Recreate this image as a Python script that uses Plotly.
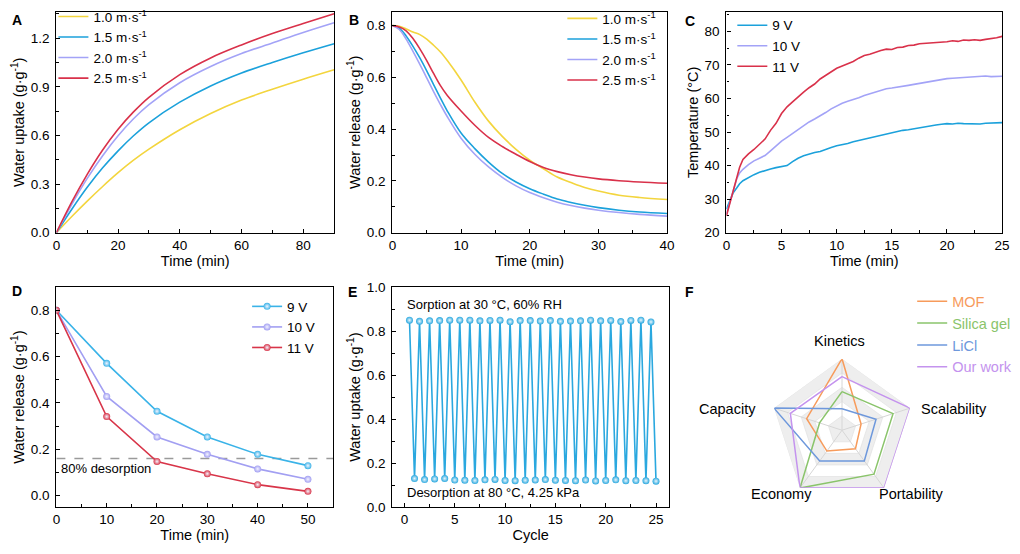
import plotly.graph_objects as go

FONT = "Arial, Liberation Sans, sans-serif"

# ---------------- Panel A: water uptake vs time ----------------
a_time = [0, 5, 10, 15, 20, 25, 30, 40, 50, 60, 70, 80, 90]
a_labels = ["1.0 m·s<sup>-1</sup>", "1.5 m·s<sup>-1</sup>", "2.0 m·s<sup>-1</sup>", "2.5 m·s<sup>-1</sup>"]
a_v10 = [0, 0.10, 0.195, 0.285, 0.37, 0.447, 0.515, 0.635, 0.735, 0.818, 0.885, 0.947, 1.005]
a_v15 = [0, 0.145, 0.28, 0.40, 0.505, 0.598, 0.678, 0.805, 0.905, 0.985, 1.05, 1.11, 1.166]
a_v20 = [0, 0.175, 0.335, 0.475, 0.598, 0.703, 0.79, 0.925, 1.025, 1.105, 1.17, 1.235, 1.295]
a_v25 = [0, 0.19, 0.36, 0.51, 0.638, 0.745, 0.835, 0.975, 1.078, 1.158, 1.228, 1.29, 1.35]

# ---------------- Panel B: water release vs time ----------------
b_time = [0, 1, 2, 3, 4, 5, 6, 7, 8, 10, 12, 14, 16, 18, 20, 22, 24, 26, 28, 30, 33, 36, 40]
b_v10 = [0.80, 0.797, 0.787, 0.775, 0.765, 0.748, 0.724, 0.698, 0.665, 0.59, 0.505, 0.431, 0.372,
         0.322, 0.28, 0.247, 0.215, 0.194, 0.175, 0.161, 0.145, 0.136, 0.128]
b_v15 = [0.80, 0.79, 0.76, 0.72, 0.675, 0.625, 0.572, 0.52, 0.47, 0.385, 0.325, 0.273, 0.229,
         0.196, 0.17, 0.149, 0.13, 0.117, 0.106, 0.097, 0.087, 0.08, 0.074]
b_v20 = [0.80, 0.785, 0.748, 0.70, 0.65, 0.598, 0.545, 0.495, 0.448, 0.365, 0.303, 0.254, 0.214,
         0.181, 0.155, 0.135, 0.118, 0.105, 0.095, 0.087, 0.078, 0.071, 0.064]
b_v25 = [0.80, 0.795, 0.78, 0.75, 0.71, 0.665, 0.615, 0.568, 0.53, 0.47, 0.415, 0.368, 0.333,
         0.303, 0.275, 0.252, 0.236, 0.224, 0.215, 0.208, 0.201, 0.196, 0.191]

# ---------------- Panel C: temperature vs time ----------------
c_time = [0, 0.3, 0.6, 0.93, 1.2, 1.5, 2, 2.5, 3, 3.5, 4, 4.5, 5, 5.5, 6, 6.5, 7, 7.5, 8, 8.5, 9, 9.5,
          10, 10.5, 11, 11.5, 12, 12.5, 13, 13.5, 14, 14.5, 15, 15.5, 16, 16.5, 17, 17.5, 18, 18.5, 19,
          19.5, 20, 20.5, 21, 21.5, 22, 22.5, 23, 23.5, 24, 24.5, 25]
c_labels = ["9 V", "10 V", "11 V"]
c_9v = [27.0, 29.5, 31.8, 33.3, 34.6, 35.5, 36.5, 37.3, 38.0, 38.6, 39.0, 39.4, 39.7, 40.0, 41.2, 42.2,
        42.9, 43.5, 43.9, 44.2, 44.9, 45.4, 45.9, 46.2, 46.6, 47.1, 47.5, 47.7, 48.1, 48.6, 49.0, 49.3,
        49.8, 50.2, 50.5, 50.7, 51.0, 51.4, 51.6, 51.8, 52.1, 52.3, 52.5, 52.4, 52.6, 52.5, 52.4, 52.3,
        52.4, 52.6, 52.7, 52.9, 52.8]
c_10v = [25.5, 29.0, 32.0, 36.0, 37.8, 38.9, 40.3, 41.4, 42.2, 43.0, 44.4, 45.8, 47.3, 48.4, 49.6, 50.8,
         51.9, 53.0, 53.9, 54.8, 55.8, 56.9, 57.8, 58.6, 59.2, 59.6, 60.2, 60.9, 61.4, 62.1, 62.6, 62.9,
         63.1, 63.3, 63.6, 63.9, 64.2, 64.5, 64.8, 65.0, 65.3, 65.6, 65.9, 66.0, 66.1, 66.2, 66.3, 66.5,
         66.5, 66.7, 66.5, 66.6, 66.6]
c_11v = [25.0, 28.5, 32.5, 36.5, 39.5, 41.8, 43.5, 44.8, 46.3, 47.9, 50.5, 52.6, 55.5, 57.5, 59.0, 60.6,
         61.9, 63.2, 64.3, 65.8, 66.9, 68.0, 69.0, 69.7, 70.4, 71.0, 72.0, 72.8, 73.2, 73.8, 74.3, 74.7,
         74.6, 75.2, 75.3, 75.8, 75.9, 76.3, 76.4, 76.5, 76.6, 76.9, 76.9, 77.2, 77.0, 77.4, 77.3, 77.5,
         77.3, 77.6, 77.8, 78.1, 78.5]

# ---------------- Panel D: water release at different voltages ----------------
d_time = [0, 10, 20, 30, 40, 50]
d_9v = [0.80, 0.571, 0.364, 0.253, 0.178, 0.129]
d_10v = [0.80, 0.428, 0.253, 0.178, 0.115, 0.070]
d_11v = [0.80, 0.341, 0.147, 0.094, 0.047, 0.018]
d_threshold = 0.16

# ---------------- Panel E: cycling ----------------
e_high_cycle = [i + 0.5 for i in range(25)]
e_low_cycle = [i + 1 for i in range(25)]
e_high = [0.85, 0.845, 0.847, 0.848, 0.85, 0.85, 0.85, 0.847, 0.849, 0.85, 0.843, 0.848, 0.848,
          0.846, 0.848, 0.845, 0.846, 0.847, 0.85, 0.847, 0.849, 0.844, 0.849, 0.85, 0.842]
e_low = [0.13, 0.125, 0.128, 0.13, 0.123, 0.122, 0.121, 0.124, 0.126, 0.121, 0.12, 0.122, 0.123,
         0.125, 0.122, 0.121, 0.12, 0.123, 0.119, 0.121, 0.124, 0.12, 0.121, 0.12, 0.118]

# ---------------- Panel F: radar ----------------
f_axes = ["Kinetics", "Scalability", "Portability", "Economy", "Capacity"]
f_mof = [5.0, 1.4, 1.6, 1.8, 2.6]
f_silica = [2.7, 3.75, 3.8, 5.0, 1.65]
f_licl = [1.5, 2.5, 2.65, 2.65, 5.0]
f_ours = [3.75, 5.0, 5.0, 5.0, 3.8]
f_levels = [5, 4, 3, 2, 1]

YEL, BLU, LAV, RED = "#F3D53E", "#1BA1DB", "#A3A3F7", "#D9314A"
D_BLU, D_LAV, D_RED = "#3AB3E8", "#A29FF2", "#D83549"
E_BLU = "#2AA8DF"
F_COL = {"MOF": "#F79B5B", "Silica gel": "#8AC46B", "LiCl": "#6E98DC", "Our work": "#C493EE"}

fig = go.Figure()

for lab, vals, col in zip(a_labels, [a_v10, a_v15, a_v20, a_v25], [YEL, BLU, LAV, RED]):
    fig.add_trace(go.Scatter(x=a_time, y=vals, mode="lines", name=lab, line=dict(color=col, width=1.6, shape="spline"),
                             xaxis="x", yaxis="y", legend="legend"))
for lab, vals, col in zip(a_labels, [b_v10, b_v15, b_v20, b_v25], [YEL, BLU, LAV, RED]):
    fig.add_trace(go.Scatter(x=b_time, y=vals, mode="lines", name=lab, line=dict(color=col, width=1.6, shape="spline"),
                             xaxis="x2", yaxis="y2", legend="legend2"))
for lab, vals, col in zip(c_labels, [c_9v, c_10v, c_11v], [BLU, LAV, RED]):
    fig.add_trace(go.Scatter(x=c_time, y=vals, mode="lines", name=lab, line=dict(color=col, width=1.6),
                             xaxis="x3", yaxis="y3", legend="legend3"))
fig.add_trace(go.Scatter(x=[0, 55], y=[d_threshold, d_threshold], mode="lines", showlegend=False,
                         line=dict(color="#9a9a9a", width=1.5, dash="dash"), xaxis="x4", yaxis="y4"))
for lab, vals, col in zip(c_labels, [d_9v, d_10v, d_11v], [D_BLU, D_LAV, D_RED]):
    fig.add_trace(go.Scatter(x=d_time, y=vals, mode="lines+markers", name=lab, line=dict(color=col, width=1.6),
                             marker=dict(color=col, size=7, gradient=dict(type="radial", color="#f4f4ff")),
                             xaxis="x4", yaxis="y4", legend="legend4"))
e_x, e_y = [], []
for hx, hy, lx, ly in zip(e_high_cycle, e_high, e_low_cycle, e_low):
    e_x += [hx, lx]
    e_y += [hy, ly]
fig.add_trace(go.Scatter(x=e_x, y=e_y, mode="lines+markers", showlegend=False, line=dict(color=E_BLU, width=1.6),
                         marker=dict(color=E_BLU, size=7, gradient=dict(type="radial", color="#e8f6fd")),
                         xaxis="x5", yaxis="y5"))

for i, lv in enumerate(f_levels):
    col = "#EEEEEE" if i % 2 == 0 else "#FFFFFF"
    fig.add_trace(go.Scatterpolar(r=[lv] * 6, theta=f_axes + [f_axes[0]], mode="lines", fill="toself",
                                  fillcolor=col, line=dict(color="#E3E3E3", width=0.8), showlegend=False,
                                  hoverinfo="skip", subplot="polar"))
for ax_name in f_axes:
    fig.add_trace(go.Scatterpolar(r=[0, 5], theta=[ax_name, ax_name], mode="lines", showlegend=False,
                                  line=dict(color="#D6D6D6", width=1), hoverinfo="skip", subplot="polar"))
for name, vals in [("MOF", f_mof), ("Silica gel", f_silica), ("LiCl", f_licl), ("Our work", f_ours)]:
    fig.add_trace(go.Scatterpolar(r=vals + [vals[0]], theta=f_axes + [f_axes[0]], mode="lines",
                                  name='<span style="color:%s">%s</span>' % (F_COL[name], name),
                                  line=dict(color=F_COL[name], width=1.5), subplot="polar", legend="legend5"))


def xa(domain, rng, dtick, mdtick, anchor, title, fmt=None, is_y=False):
    d = dict(domain=domain, range=rng, dtick=dtick, tick0=0, showline=True, linecolor="black", linewidth=1.2,
             mirror=True, ticks="inside", ticklen=4, tickwidth=1.2, tickcolor="black",
             minor=dict(dtick=mdtick, tick0=0, ticks="inside", ticklen=2.5, tickwidth=1, tickcolor="black", showgrid=False),
             showgrid=False, zeroline=False, tickfont=dict(size=13.5, color="black"),
             title=dict(text=title, font=dict(size=14.5, color="black"), standoff=2), anchor=anchor)
    if fmt:
        d["tickformat"] = fmt
    if is_y:
        d["ticklabelstandoff"] = 3
    return d


def px(v):
    return v / 1020.0


def py(v):
    return 1 - v / 554.0


top_y = [py(232), py(5)]
bot_y = [py(514), py(288)]

leg_common = dict(bgcolor="rgba(0,0,0,0)", font=dict(size=13.5, color="black"), xanchor="left", yanchor="top",
                  tracegroupgap=0, itemwidth=30)

RC_X, RC_Y, RR = 848, 435, 73.5

fig.update_layout(
    width=1020, height=554, autosize=False, margin=dict(l=0, r=0, t=0, b=0),
    paper_bgcolor="white", plot_bgcolor="white", font=dict(family=FONT, color="black"),
    xaxis=xa([px(53), px(334)], [0, 90], 20, 10, "y", "Time (min)"),
    yaxis=xa(top_y, [0, 1.362], 0.3, 0.15, "x", "Water uptake (g·g<sup>-1</sup>)", ".1f", True),
    xaxis2=xa([px(393), px(671)], [0, 40], 10, 5, "y2", "Time (min)"),
    yaxis2=xa(top_y, [0, 0.853], 0.2, 0.1, "x2", "Water release (g·g<sup>-1</sup>)", ".1f", True),
    xaxis3=xa([px(731), px(1010)], [0, 25], 5, 2.5, "y3", "Time (min)"),
    yaxis3=xa(top_y, [20, 85.8], 10, 5, "x3", "Temperature (°C)", None, True),
    xaxis4=xa([px(53), px(333)], [0, 55], 10, 5, "y4", "Time (min)"),
    yaxis4=xa(bot_y, [-0.05, 0.9], 0.2, 0.1, "x4", "Water release (g·g<sup>-1</sup>)", ".1f", True),
    xaxis5=xa([px(393), px(673)], [-1.2, 26.3], 5, 2.5, "y5", "Cycle"),
    yaxis5=xa(bot_y, [0, 1.0], 0.2, 0.1, "x5", "Water uptake (g·g<sup>-1</sup>)", ".1f", True),
    polar=dict(
        domain=dict(x=[px(RC_X - RR), px(RC_X + RR)], y=[py(RC_Y + RR), py(RC_Y - RR)]),
        gridshape="linear", bgcolor="white",
        angularaxis=dict(type="category", rotation=90, direction="clockwise", showline=False, showgrid=False,
                         ticks="", showticklabels=False),
        radialaxis=dict(range=[0, 5], showticklabels=False, ticks="", showline=False, showgrid=False),
    ),
    legend=dict(x=px(50), y=py(-6), **leg_common),
    legend2=dict(x=px(565), y=py(-4), **leg_common),
    legend3=dict(x=px(737), y=py(3), **leg_common),
    legend4=dict(x=px(246), y=py(292), **leg_common),
    legend5=dict(x=px(919), y=py(286), **dict(leg_common, font=dict(size=14.5))),
)

letters = [("A", 13, 13), ("B", 354, 13), ("C", 694, 14), ("D", 13, 292), ("E", 353, 293), ("F", 694, 293)]
for t, x, y in letters:
    fig.add_annotation(text="<b>%s</b>" % t, x=px(x), y=py(y), xref="paper", yref="paper", showarrow=False,
                       xanchor="center", yanchor="middle", font=dict(size=14, color="black"))

# radar axis names
f_label_pos = [(845, 343), (961, 413), (918, 501), (787, 501), (732, 413)]
for name, (lx, ly) in zip(f_axes, f_label_pos):
    fig.add_annotation(text=name, x=px(lx), y=py(ly), xref="paper", yref="paper", showarrow=False,
                       xanchor="center", yanchor="middle", font=dict(size=14.5, color="black"))

fig.add_annotation(text="80% desorption", x=0.5, y=0.118, xref="x4", yref="y4", showarrow=False,
                   xanchor="left", yanchor="middle", font=dict(size=13, color="black"))
fig.add_annotation(text="Sorption at 30 °C, 60% RH", x=0.1, y=0.92, xref="x5", yref="y5", showarrow=False,
                   xanchor="left", yanchor="middle", font=dict(size=13, color="black"))
fig.add_annotation(text="Desorption at 80 °C, 4.25 kPa", x=0.1, y=0.067, xref="x5", yref="y5", showarrow=False,
                   xanchor="left", yanchor="middle", font=dict(size=13, color="black"))

fig.write_html("out.html")
